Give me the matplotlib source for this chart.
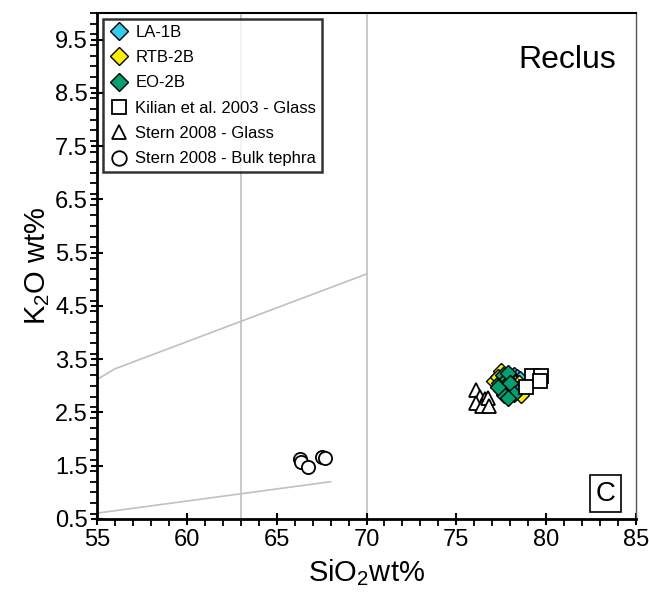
import numpy as np
import matplotlib
matplotlib.use("Agg")
from matplotlib import pyplot as plt
from matplotlib.ticker import MultipleLocator

plt.rcParams["font.family"] = ["Liberation Sans", "DejaVu Sans"]
plt.rcParams["mathtext.fontset"] = "custom"
plt.rcParams["mathtext.rm"] = "Liberation Sans"
plt.rcParams["mathtext.it"] = "Liberation Sans"

## Sample data (SiO2, K2O wt%)
la1b_sio2 = [78.2, 78.4, 78.55, 78.3, 78.05]
la1b_k2o = [3.20, 3.17, 3.12, 3.08, 3.13]

rtb2b_sio2 = [77.5, 77.1, 77.3, 78.5, 78.6, 77.9, 78.35, 77.7]
rtb2b_k2o = [3.27, 3.09, 3.17, 3.05, 2.83, 3.22, 2.95, 2.90]

eo2b_sio2 = [77.4, 77.6, 77.8, 77.5, 77.7, 77.95, 78.1, 77.65, 77.3, 77.85, 78.0, 78.2, 77.85]
eo2b_k2o = [3.05, 3.20, 3.12, 2.92, 3.00, 2.90, 2.97, 2.82, 2.98, 3.25, 3.05, 2.85, 2.78]

kilian_sio2 = [79.2, 79.7, 79.65, 78.9]
kilian_k2o = [3.18, 3.18, 3.10, 2.98]

stern_glass_sio2 = [76.1, 76.3, 76.6, 76.1, 76.45, 76.75, 76.8]
stern_glass_k2o = [2.92, 2.80, 2.75, 2.68, 2.62, 2.78, 2.62]

stern_bulk_sio2 = [66.3, 66.35, 66.75, 67.5, 67.7]
stern_bulk_k2o = [1.62, 1.57, 1.48, 1.67, 1.64]

## Classification field lines
upper_line_x = [55, 56, 70]
upper_line_y = [3.12, 3.32, 5.10]
lower_line_x = [55, 68]
lower_line_y = [0.61, 1.20]
vertical_lines = [63, 70]

fig = plt.figure(figsize=(6.49, 5.93), dpi=100)
ax = fig.add_axes([0.1495, 0.1248, 0.8305, 0.8532])

grey = "#c0c0c0"
for vx in vertical_lines:
    ax.axvline(vx, color=grey, lw=1.2, zorder=1)
ax.plot(upper_line_x, upper_line_y, color=grey, lw=1.2, zorder=1)
ax.plot(lower_line_x, lower_line_y, color=grey, lw=1.2, zorder=1)

ax.plot(la1b_sio2, la1b_k2o, "D", ms=8.5, mfc="#33ccee", mec="black", mew=1.0,
        ls="none", label="LA-1B", zorder=3)
ax.plot(rtb2b_sio2, rtb2b_k2o, "D", ms=8.5, mfc="#ffee00", mec="black", mew=1.0,
        ls="none", label="RTB-2B", zorder=3)
ax.plot(eo2b_sio2, eo2b_k2o, "D", ms=8.5, mfc="#00a070", mec="black", mew=1.0,
        ls="none", label="EO-2B", zorder=3)
ax.plot(kilian_sio2, kilian_k2o, "s", ms=9.5, mfc="white", mec="black", mew=1.3,
        ls="none", label="Kilian et al. 2003 - Glass", zorder=4)
ax.plot(stern_glass_sio2, stern_glass_k2o, "^", ms=9.5, mfc="white", mec="black", mew=1.3,
        ls="none", label="Stern 2008 - Glass", zorder=4)
ax.plot(stern_bulk_sio2, stern_bulk_k2o, "o", ms=9.5, mfc="white", mec="black", mew=1.3,
        ls="none", label="Stern 2008 - Bulk tephra", zorder=4)

ax.set_xlim(55, 85)
ax.set_ylim(0.5, 10.0)
ax.set_xticks(np.arange(55, 86, 5))
ax.set_yticks(np.arange(0.5, 10.0, 1.0))
ax.xaxis.set_minor_locator(MultipleLocator(1))
ax.yaxis.set_minor_locator(MultipleLocator(0.2))
ax.tick_params(which="major", direction="inout", length=9, width=1.5,
               labelsize=17, pad=2)
ax.tick_params(axis="x", which="major", pad=3)
ax.tick_params(which="minor", direction="out", length=5, width=1.3)

for side in ["left", "bottom"]:
    ax.spines[side].set_linewidth(2)
    ax.spines[side].set_color("black")
ax.spines["top"].set_linewidth(1.5)
ax.spines["top"].set_color("black")
ax.spines["right"].set_linewidth(1.0)
ax.spines["right"].set_color("#555555")

ax.set_xlabel("SiO$_2$wt%", fontsize=21, labelpad=4)
ax.set_ylabel("K$_2$O wt%", fontsize=21, labelpad=2)

ax.text(0.963, 0.907, "Reclus", transform=ax.transAxes, fontsize=23,
        ha="right", va="center")
ax.text(0.943, 0.05, "C", transform=ax.transAxes, fontsize=20,
        ha="center", va="center",
        bbox=dict(boxstyle="square,pad=0.2", fc="white", ec="black", lw=1.2))

leg = ax.legend(loc="upper left", fontsize=12, frameon=True, fancybox=False,
                edgecolor="black", borderpad=0.35, labelspacing=0.62,
                handletextpad=0.4, handlelength=1.2, borderaxespad=0.35,
                markerscale=1.1)
leg.get_frame().set_linewidth(1.8)

fig.savefig("out.png", dpi=100)
